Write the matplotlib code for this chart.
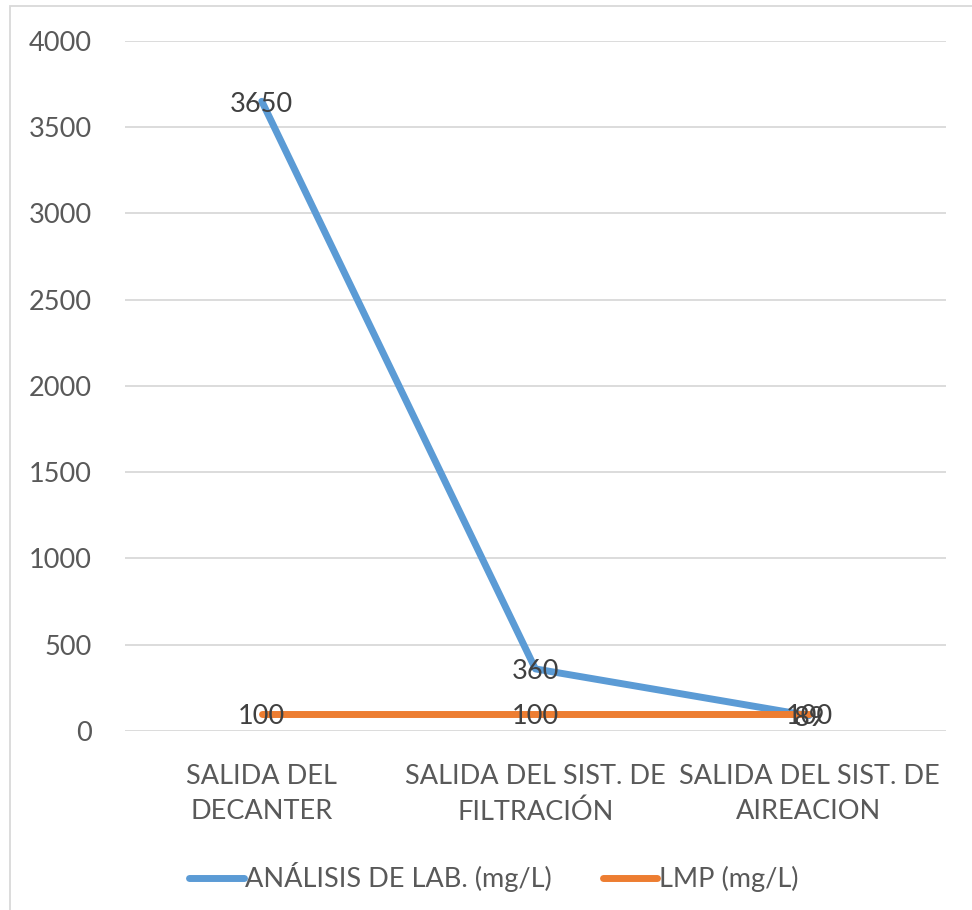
import matplotlib.pyplot as plt
from matplotlib.patches import Rectangle

categories = ["SALIDA DEL\nDECANTER", "SALIDA DEL SIST. DE\nFILTRACIÓN", "SALIDA DEL SIST. DE\nAIREACION"]
analisis = [3650, 360, 89]
lmp = [100, 100, 100]
yticks = [0, 500, 1000, 1500, 2000, 2500, 3000, 3500, 4000]

blue = "#5B9BD5"
orange = "#ED7D31"
tick_color = "#595959"
label_color = "#404040"

plt.rcParams['font.family'] = ['Lato', 'DejaVu Sans']

fig = plt.figure(figsize=(9.72, 9.10), dpi=100)
ax = fig.add_axes([0.1286, 0.1967, 0.8444, 0.7583])

x = list(range(len(categories)))
ax.plot(x, analisis, color=blue, linewidth=5, solid_capstyle='round', label="ANÁLISIS DE LAB. (mg/L)", zorder=3)
ax.plot(x, lmp, color=orange, linewidth=5, solid_capstyle='round', label="LMP (mg/L)", zorder=3)

# value labels centred on each point
for xi, v in zip(x, lmp):
    ax.annotate(str(v), (xi, v), xytext=(0, -2), textcoords='offset points', ha='center', va='center',
                fontsize=19.5, color=label_color, zorder=4)
for xi, v in zip(x, analisis):
    ax.annotate(str(v), (xi, v), xytext=(0, -2), textcoords='offset points', ha='center', va='center',
                fontsize=19.5, color=label_color, zorder=4)

ax.set_xlim(-0.5, 2.5)
ax.set_ylim(0, 4000)
ax.set_yticks(yticks)
ax.set_xticks(x)
ax.set_xticklabels(categories, fontsize=19.5, color=tick_color, linespacing=1.5)
ax.tick_params(axis='y', labelsize=19.5, colors=tick_color, length=0, pad=24)
ax.tick_params(axis='x', length=0, pad=24)
ax.grid(axis='y', color="#D9D9D9", linewidth=1.3)
ax.set_axisbelow(True)
for s in ax.spines.values():
    s.set_visible(False)

fig.legend(loc='center', bbox_to_anchor=(0.508, 0.036), ncol=2, frameon=False,
           fontsize=19.5, labelcolor=tick_color, handlelength=2.0, handletextpad=0.05,
           columnspacing=1.9)

# chart frame
fig.patches.append(Rectangle((10 / 972, -0.1), 1.2, 1 - 6 / 910 + 0.1, transform=fig.transFigure,
                             fill=False, edgecolor="#D9D9D9", linewidth=1.3))

fig.savefig("out.png", dpi=100)
